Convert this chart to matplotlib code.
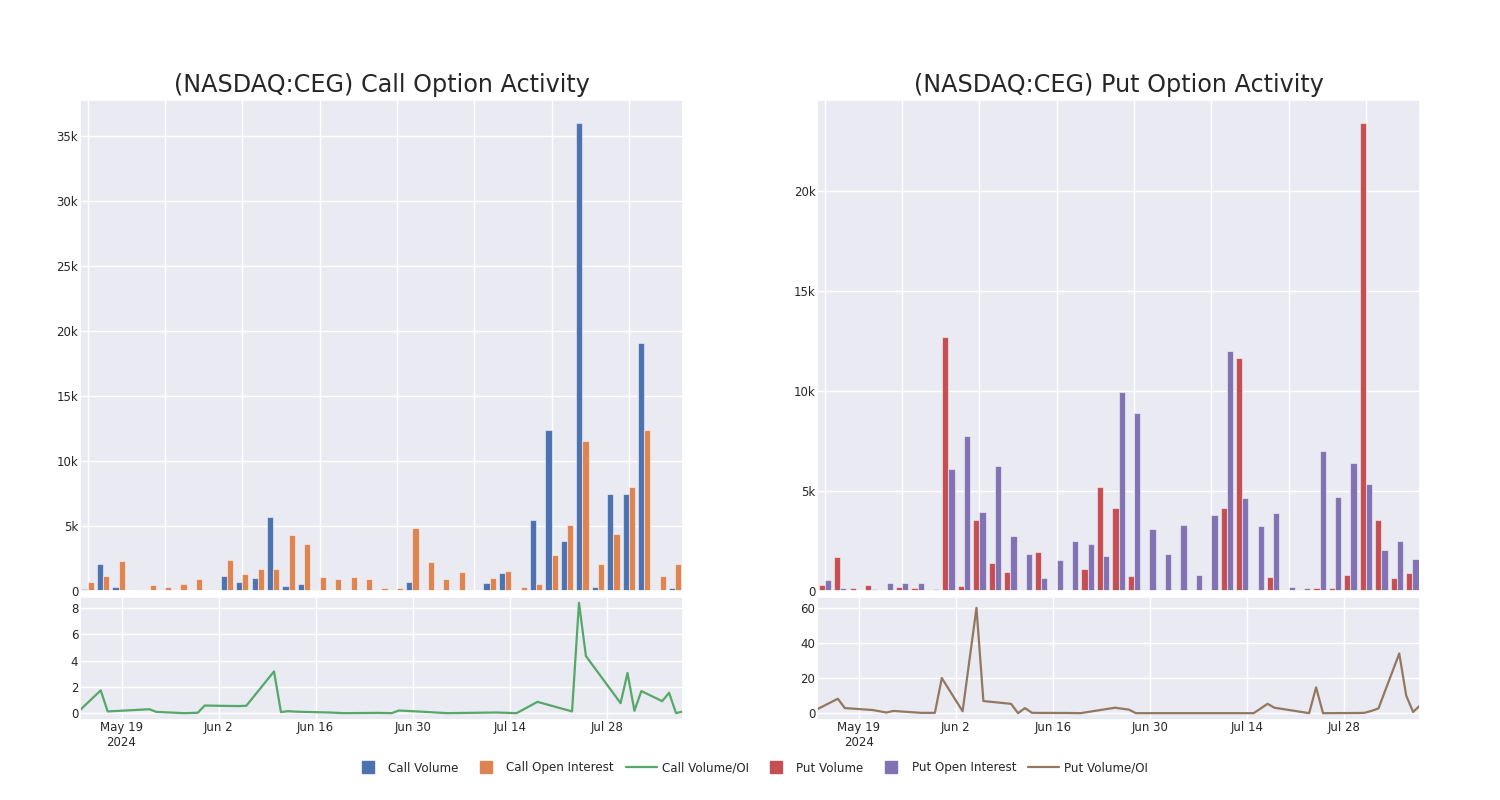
import numpy as np
import pandas as pd
import matplotlib
matplotlib.use('Agg')
import matplotlib.pyplot as plt
import seaborn as sns
from matplotlib.ticker import FuncFormatter
from matplotlib.lines import Line2D

# dados
datas = pd.to_datetime([
    '2024-05-13', '2024-05-16', '2024-05-17', '2024-05-21', '2024-05-23', '2024-05-24',
    '2024-05-28', '2024-05-30', '2024-05-31', '2024-06-03', '2024-06-05', '2024-06-06',
    '2024-06-10', '2024-06-11', '2024-06-12', '2024-06-13', '2024-06-14', '2024-06-18',
    '2024-06-20', '2024-06-25', '2024-06-27', '2024-06-28', '2024-07-01', '2024-07-05',
    '2024-07-12', '2024-07-15', '2024-07-17', '2024-07-18', '2024-07-23', '2024-07-24',
    '2024-07-25', '2024-07-30', '2024-07-31', '2024-08-01', '2024-08-02', '2024-08-05',
    '2024-08-06', '2024-08-07', '2024-08-08'])

call_volume = [150, 2090, 310, 30, 100, 40, 0, 40, 20, 1180, 700, 980, 5690, 390, 520,
               130, 0, 20, 0, 20, 30, 670, 100, 0, 100, 0, 620, 1370, 20, 5510, 12420,
               3860, 35960, 310, 7440, 7440, 19110, 20, 230]
call_oi = [720, 1160, 2320, 130, 440, 330, 540, 900, 30, 2400, 1290, 1720, 1720, 4300, 3660,
           1080, 950, 1100, 900, 260, 260, 4820, 2240, 900, 1490, 50, 1000, 1520, 360, 570,
           2760, 5080, 11570, 2110, 4400, 7990, 12390, 1160, 2090]
put_volume = [290, 1710, 140, 300, 50, 220, 150, 50, 12700, 240, 3570, 1410, 940, 10, 1940,
              0, 0, 1100, 5210, 4150, 770, 0, 10, 0, 50, 80, 4170, 11660, 30, 700, 10, 50,
              170, 170, 820, 23380, 3550, 640, 920]
put_oi = [540, 150, 30, 100, 390, 390, 400, 100, 6130, 7750, 3950, 6250, 2780, 1860, 640,
          1540, 2500, 2350, 1780, 9970, 8910, 3120, 1840, 3320, 790, 3830, 11980, 4670, 3250,
          3900, 200, 170, 7000, 4710, 6400, 5380, 2080, 2500, 1620]
call_ratio = [0.23, 1.73, 0.13, 0.24, 0.30, 0.10, 0.0, 0.03, 0.58, 0.55, 0.54, 0.56, 3.17,
              0.08, 0.15, 0.12, 0.10, 0.05, 0.0, 0.02, 0.0, 0.20, 0.12, 0.0, 0.05, 0.0, 0.57,
              0.86, 0.13, 8.38, 4.34, 0.76, 3.05, 0.18, 1.68, 0.91, 1.55, 0.0, 0.13]
put_ratio = [2.2, 8.2, 2.9, 1.8, 0.36, 1.27, 0.18, 0.18, 20.0, 1.1, 60.0, 6.9, 5.3, 0.0, 2.9,
             0.2, 0.15, 0.1, 0.0, 3.1, 2.0, 0.0, 0.0, 0.0, 0.0, 0.0, 5.3, 3.1, 0.0, 14.7,
             0.0, 0.1, 0.2, 1.3, 2.7, 34.0, 10.0, 0.7, 4.4]

tick_datas = pd.to_datetime(['2024-05-19', '2024-06-02', '2024-06-16', '2024-06-30',
                             '2024-07-14', '2024-07-28'])
tick_labels = ['May 19\n2024', 'Jun 2', 'Jun 16', 'Jun 30', 'Jul 14', 'Jul 28']

sns.set_theme(style='darkgrid')
plt.rcParams['font.family'] = ['DejaVu Sans']

fig = plt.figure(figsize=(15, 8), dpi=100)

k_fmt = FuncFormatter(lambda v, p: '0' if v == 0 else f'{v/1000:g}k')
borda = (1, 1, 1, 0.5)


def painel(left, titulo, vol, oi, ratio, c_vol, c_oi, c_line, lab_vol, lab_oi, lab_ratio, yt):
    ax_bar = fig.add_axes([left, 0.261, 0.402, 0.614])
    ax_line = fig.add_axes([left, 0.1, 0.402, 0.154])

    x = np.arange(len(vol))
    ax_bar.bar(x - 0.2, vol, width=0.4, color=c_vol, edgecolor=borda, linewidth=0.8)
    ax_bar.bar(x + 0.2, oi, width=0.4, color=c_oi, edgecolor=borda, linewidth=0.8)
    ax_bar.set_xlim(-0.5, len(vol) - 0.5)
    ax_bar.set_ylim(0, max(max(vol), max(oi)) * 1.05)
    ax_bar.set_xticks(np.arange(0, len(vol), 5))
    ax_bar.tick_params(axis='x', labelbottom=False, length=0)
    ax_bar.yaxis.set_major_formatter(k_fmt)
    ax_bar.tick_params(axis='y', labelsize=8.5, length=0, pad=1.2)
    ax_bar.set_title(titulo, fontsize=17.2)

    ax_line.plot(datas, ratio, color=c_line, lw=1.6)
    ax_line.set_xlim(datas[0], datas[-1])
    ax_line.set_ylim(yt[0] - (yt[-1] - yt[0]) * 0.065, yt[-1] + (yt[-1] - yt[0]) * 0.105)
    ax_line.set_yticks(yt)
    ax_line.set_xticks(tick_datas)
    ax_line.set_xticklabels(tick_labels)
    ax_line.tick_params(axis='y', labelsize=8.5, length=0, pad=1.2)
    ax_line.tick_params(axis='x', labelsize=8.5, length=0, pad=1)

    h = [Line2D([], [], ls='none', marker='s', ms=8.5, color=c_vol, label=lab_vol),
         Line2D([], [], ls='none', marker='s', ms=8.5, color=c_oi, label=lab_oi),
         Line2D([], [], color=c_line, lw=1.6, label=lab_ratio)]
    return h


h_call = painel(0.0533, '(NASDAQ:CEG) Call Option Activity', call_volume, call_oi, call_ratio,
                '#4C72B0', '#DD8452', '#55A868', 'Call Volume', 'Call Open Interest',
                'Call Volume/OI', [0, 2, 4, 6, 8])
h_put = painel(0.5447, '(NASDAQ:CEG) Put Option Activity', put_volume, put_oi, put_ratio,
               '#C44E52', '#8172B3', '#937860', 'Put Volume', 'Put Open Interest',
               'Put Volume/OI', [0, 20, 40, 60])

handles = h_call + h_put
fig.legend(handles, [h.get_label() for h in handles], loc='center', bbox_to_anchor=(0.5, 0.04),
           ncol=6, frameon=False, fontsize=8.6, handlelength=2.6, handletextpad=0.4,
           columnspacing=1.0)

plt.savefig('out.png', dpi=100)
